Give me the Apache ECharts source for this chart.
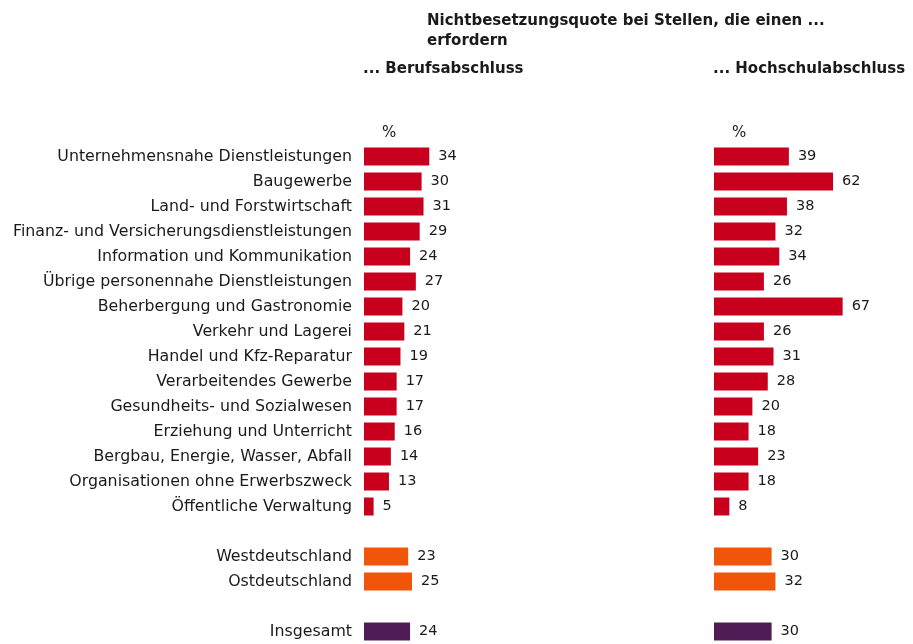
<!DOCTYPE html>
<html><head><meta charset="utf-8">
<script src="https://cdn.jsdelivr.net/npm/echarts@6/dist/echarts.min.js"></script>
<style>html,body{margin:0;padding:0;background:#fff}#c{width:913px;height:644px}</style>
</head><body><div id="c"></div>
<script>
const categories = [
  'Unternehmensnahe Dienstleistungen','Baugewerbe','Land- und Forstwirtschaft',
  'Finanz- und Versicherungsdienstleistungen','Information und Kommunikation',
  'Übrige personennahe Dienstleistungen','Beherbergung und Gastronomie',
  'Verkehr und Lagerei','Handel und Kfz-Reparatur','Verarbeitendes Gewerbe',
  'Gesundheits- und Sozialwesen','Erziehung und Unterricht',
  'Bergbau, Energie, Wasser, Abfall','Organisationen ohne Erwerbszweck',
  'Öffentliche Verwaltung','','Westdeutschland','Ostdeutschland',' ','Insgesamt'
];
const berufsabschluss = [34,30,31,29,24,27,20,21,19,17,17,16,14,13,5,null,23,25,null,24];
const hochschulabschluss = [39,62,38,32,34,26,67,26,31,28,20,18,23,18,8,null,30,32,null,30];
const groups = ['s','s','s','s','s','s','s','s','s','s','s','s','s','s','s','-','r','r','-','t'];
const titleText = 'Nichtbesetzungsquote bei Stellen, die einen ...\nerfordern';
const panelTitles = ['... Berufsabschluss','... Hochschulabschluss'];

const colorMap = {s:'#c8001e', r:'#f0550a', t:'#501c56', '-':'#fff'};
const FONT = 'DejaVu Sans';
function mk(vals){
  return vals.map((v,i)=> v==null ? null : {value:v, itemStyle:{color:colorMap[groups[i]]}});
}
const chart = echarts.init(document.getElementById('c'), null, {renderer:'canvas'});
const gridTop = 144, gridH = 500;
const yCommon = {
  type:'category', data:categories, inverse:true,
  axisLine:{show:false}, axisTick:{show:false}, splitLine:{show:false}
};
const xCommon = {type:'value', min:0, max:100, show:false, splitLine:{show:false}};
const lbl = {show:true, position:'right', distance:9, fontFamily:FONT, fontSize:14.5, color:'#1a1a1a'};
chart.setOption({
  animation:false,
  textStyle:{fontFamily:FONT},
  grid:[
    {left:364, top:gridTop, width:192, height:gridH},
    {left:714, top:gridTop, width:192, height:gridH}
  ],
  xAxis:[Object.assign({gridIndex:0}, xCommon), Object.assign({gridIndex:1}, xCommon)],
  yAxis:[
    Object.assign({gridIndex:0, axisLabel:{show:true, margin:12, fontFamily:FONT, fontSize:15.8, color:'#1a1a1a', padding:[2,0,0,0]}}, yCommon),
    Object.assign({gridIndex:1, axisLabel:{show:false}}, yCommon)
  ],
  graphic:[
    {type:'text', left:427, top:11, style:{text:titleText, font:'bold 15px "DejaVu Sans"', fill:'#1a1a1a', lineHeight:20}},
    {type:'text', left:363, top:62, style:{text:panelTitles[0], font:'bold 15px "DejaVu Sans"', fill:'#1a1a1a'}},
    {type:'text', left:713, top:62, style:{text:panelTitles[1], font:'bold 15px "DejaVu Sans"', fill:'#1a1a1a'}},
    {type:'text', left:382, top:126, style:{text:'%', font:'15px "DejaVu Sans"', fill:'#1a1a1a'}},
    {type:'text', left:732, top:126, style:{text:'%', font:'15px "DejaVu Sans"', fill:'#1a1a1a'}}
  ],
  series:[
    {type:'bar', xAxisIndex:0, yAxisIndex:0, barWidth:18, data:mk(berufsabschluss), label:lbl},
    {type:'bar', xAxisIndex:1, yAxisIndex:1, barWidth:18, data:mk(hochschulabschluss), label:lbl}
  ]
});
</script></body></html>
